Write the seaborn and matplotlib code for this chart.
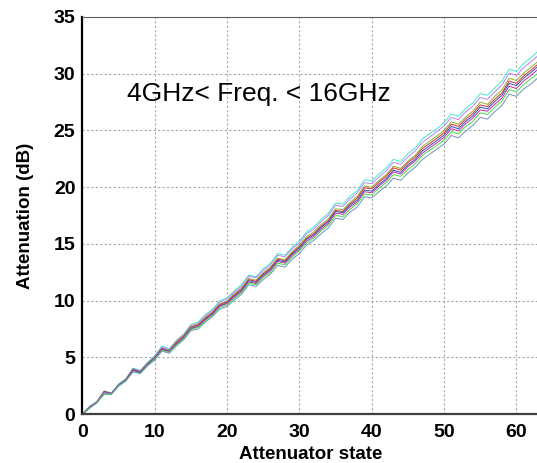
import numpy as np
import pandas as pd
import matplotlib
matplotlib.use('Agg')
import matplotlib.pyplot as plt
import seaborn as sns
from matplotlib.ticker import MultipleLocator

# Attenuator states 0..63
states = list(range(64))

# Frequencies of the measured traces (GHz)
freq_ghz = [4, 6, 8, 10, 11, 12, 14, 16]

# Attenuation (dB) per state, one list per frequency trace
att_f1 = [0, 0.7, 1.1, 2.05, 1.85, 2.65, 3.1, 4.05, 3.85, 4.55,
          5.15, 6.0, 5.75, 6.5, 7.05, 7.9, 8.1, 8.75, 9.25, 10.0,
          10.25, 10.85, 11.4, 12.25, 12.1, 12.8, 13.3, 14.15, 14.0, 14.7,
          15.3, 16.05, 16.5, 17.15, 17.7, 18.6, 18.5, 19.2, 19.7, 20.65,
          20.55, 21.15, 21.7, 22.45, 22.25, 22.95, 23.45, 24.25, 24.7, 25.15,
          25.7, 26.45, 26.25, 26.95, 27.45, 28.25, 28.1, 28.75, 29.35, 30.4,
          30.2, 30.9, 31.4, 32.0]
att_f2 = [0, 0.65, 1.1, 2.0, 1.85, 2.6, 3.1, 4.0, 3.8, 4.5,
          5.1, 5.9, 5.7, 6.45, 7.0, 7.8, 8.0, 8.65, 9.15, 9.85,
          10.15, 10.75, 11.25, 12.15, 12.0, 12.65, 13.15, 14.0, 13.85, 14.55,
          15.1, 15.9, 16.3, 16.95, 17.5, 18.4, 18.3, 18.95, 19.5, 20.4,
          20.3, 20.9, 21.45, 22.2, 22.0, 22.65, 23.2, 23.95, 24.4, 24.9,
          25.4, 26.15, 25.95, 26.65, 27.15, 27.9, 27.75, 28.4, 29.0, 30.05,
          29.85, 30.55, 31.05, 31.6]
att_f3 = [0, 0.6, 1.05, 1.95, 1.8, 2.55, 3.05, 3.95, 3.75, 4.45,
          5.0, 5.8, 5.6, 6.35, 6.9, 7.7, 7.9, 8.5, 9.0, 9.7,
          9.95, 10.6, 11.1, 11.95, 11.8, 12.45, 12.95, 13.75, 13.6, 14.3,
          14.9, 15.65, 16.05, 16.7, 17.2, 18.1, 18.0, 18.65, 19.2, 20.1,
          20.0, 20.6, 21.1, 21.85, 21.65, 22.3, 22.8, 23.6, 24.05, 24.5,
          25.0, 25.75, 25.55, 26.2, 26.7, 27.5, 27.3, 28.0, 28.55, 29.6,
          29.4, 30.05, 30.55, 31.1]
att_f4 = [0, 0.6, 1.05, 2.0, 1.8, 2.55, 3.0, 3.9, 3.7, 4.4,
          4.95, 5.75, 5.55, 6.3, 6.85, 7.65, 7.85, 8.45, 8.95, 9.65,
          9.9, 10.5, 11.0, 11.85, 11.7, 12.35, 12.85, 13.65, 13.5, 14.2,
          14.75, 15.5, 15.9, 16.55, 17.05, 17.95, 17.85, 18.5, 19.05, 19.95,
          19.85, 20.45, 20.95, 21.7, 21.5, 22.15, 22.65, 23.4, 23.85, 24.3,
          24.8, 25.55, 25.35, 26.0, 26.5, 27.25, 27.1, 27.75, 28.3, 29.35,
          29.15, 29.8, 30.3, 30.85]
att_f5 = [0, 0.55, 1.0, 1.9, 1.8, 2.55, 3.0, 3.9, 3.7, 4.4,
          4.95, 5.75, 5.55, 6.2, 6.75, 7.55, 7.75, 8.35, 8.85, 9.55,
          9.8, 10.4, 10.9, 11.75, 11.6, 12.25, 12.75, 13.55, 13.4, 14.1,
          14.65, 15.4, 15.8, 16.45, 16.95, 17.85, 17.75, 18.4, 18.85, 19.75,
          19.65, 20.25, 20.75, 21.5, 21.3, 21.95, 22.45, 23.2, 23.65, 24.1,
          24.6, 25.35, 25.15, 25.8, 26.3, 27.05, 26.9, 27.55, 28.1, 29.15,
          28.95, 29.6, 30.1, 30.65]
att_f6 = [0, 0.6, 1.05, 1.85, 1.75, 2.5, 2.95, 3.85, 3.65, 4.35,
          4.9, 5.7, 5.5, 6.15, 6.7, 7.5, 7.7, 8.3, 8.8, 9.5,
          9.75, 10.3, 10.8, 11.65, 11.5, 12.15, 12.65, 13.45, 13.3, 14.0,
          14.5, 15.25, 15.65, 16.3, 16.8, 17.7, 17.6, 18.25, 18.7, 19.6,
          19.5, 20.1, 20.6, 21.35, 21.15, 21.8, 22.3, 23.0, 23.45, 23.9,
          24.4, 25.15, 24.95, 25.6, 26.1, 26.8, 26.7, 27.3, 27.85, 28.9,
          28.7, 29.35, 29.85, 30.4]
att_f7 = [0, 0.5, 1.0, 1.7, 1.75, 2.5, 2.95, 3.7, 3.6, 4.3,
          4.85, 5.6, 5.45, 6.1, 6.65, 7.45, 7.65, 8.2, 8.7, 9.4,
          9.65, 10.2, 10.7, 11.55, 11.4, 12.05, 12.5, 13.3, 13.15, 13.85,
          14.4, 15.1, 15.5, 16.15, 16.65, 17.5, 17.4, 18.05, 18.55, 19.4,
          19.3, 19.9, 20.4, 21.1, 20.95, 21.55, 22.05, 22.8, 23.25, 23.65,
          24.15, 24.9, 24.7, 25.35, 25.8, 26.55, 26.4, 27.05, 27.6, 28.6,
          28.4, 29.05, 29.55, 30.05]
att_f8 = [0, 0.55, 1.0, 1.9, 1.75, 2.45, 2.9, 3.75, 3.55, 4.25,
          4.75, 5.55, 5.35, 6.0, 6.55, 7.35, 7.5, 8.1, 8.6, 9.25,
          9.5, 10.05, 10.55, 11.4, 11.25, 11.85, 12.35, 13.1, 12.95, 13.65,
          14.15, 14.9, 15.3, 15.9, 16.4, 17.25, 17.15, 17.8, 18.25, 19.15,
          19.05, 19.6, 20.1, 20.8, 20.6, 21.25, 21.75, 22.45, 22.9, 23.35,
          23.8, 24.55, 24.35, 24.95, 25.45, 26.15, 26.0, 26.65, 27.2, 28.2,
          28.0, 28.65, 29.1, 29.65]

traces = [att_f1, att_f2, att_f3, att_f4, att_f5, att_f6, att_f7, att_f8]
trace_colors = ['#40e8d0', '#c080f0', '#90b030', '#d03030',
                '#3050c0', '#c030a0', '#40e040', '#7090c0']

# long format table for seaborn
rows = []
for f, vals in zip(freq_ghz, traces):
    for s, v in zip(states, vals):
        rows.append({'state': s, 'att': v, 'freq': f})
df = pd.DataFrame(rows)

sns.set_style("white")
plt.rcParams['font.family'] = ['Liberation Sans', 'DejaVu Sans']

fig = plt.figure(figsize=(5.37, 4.63), dpi=100)
ax = fig.add_axes([0.1535, 0.1058, 0.8485, 0.8575])

sns.lineplot(data=df, x='state', y='att', hue='freq', palette=trace_colors,
             linewidth=0.7, legend=False, ax=ax)

ax.set_xlim(0, 63)
ax.set_ylim(0, 35)
ax.xaxis.set_major_locator(MultipleLocator(10))
ax.xaxis.set_minor_locator(MultipleLocator(2.5))
ax.yaxis.set_major_locator(MultipleLocator(5))
ax.yaxis.set_minor_locator(MultipleLocator(1.25))

ax.grid(True, which='major', color='#a8a8a8', linestyle=(0, (2, 2)), linewidth=0.8)

ax.tick_params(axis='both', which='major', labelsize=14, length=4, direction='out',
               colors='black', labelcolor='black')
ax.tick_params(axis='both', which='minor', length=3, direction='in', color='#404040')
ax.tick_params(axis='x', which='major', pad=3)
ax.tick_params(axis='y', which='major', pad=1)
for lbl in ax.get_xticklabels() + ax.get_yticklabels():
    lbl.set_fontweight('bold')

ax.spines['left'].set_color('black')
ax.spines['left'].set_linewidth(1.6)
ax.spines['bottom'].set_color('#404040')
ax.spines['bottom'].set_linewidth(1.6)
ax.spines['top'].set_color('#606060')
ax.spines['top'].set_linewidth(0.8)
ax.spines['right'].set_visible(False)

ax.set_xlabel('Attenuator state', fontsize=13.5, fontweight='bold', labelpad=4, color='black')
ax.set_ylabel('Attenuation (dB)', fontsize=13.5, fontweight='bold', labelpad=14, color='black')

ax.text(6.1, 28.2, '4GHz< Freq. < 16GHz', fontsize=19, ha='left', va='center', color='black')

fig.savefig('out.png', dpi=100)
